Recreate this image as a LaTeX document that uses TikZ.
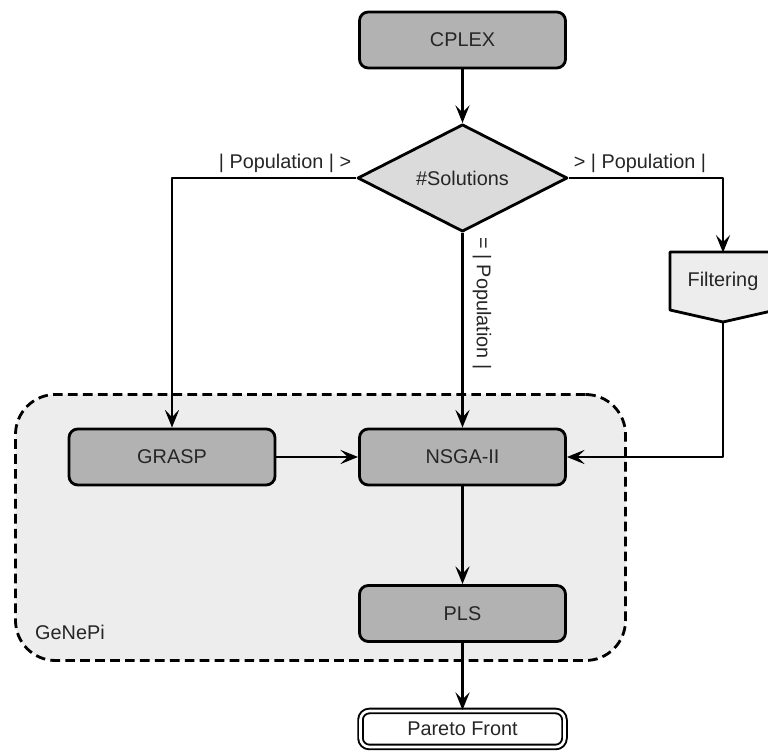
\documentclass[tikz,border=0pt]{standalone}
\usepackage{fontspec}
\setmainfont{Liberation Sans}
\usetikzlibrary{arrows.meta,calc,positioning,shapes.geometric}

\begin{document}
\begin{tikzpicture}[
  line join=round,
  >={Stealth[length=10pt,width=8pt,inset=4pt]},
  every node/.style={font=\fontsize{11.3}{13.5}\selectfont,text=black!85},
  stage/.style={draw=black,line width=1.6pt,rounded corners=5pt,fill=black!30,
    minimum width=4.12cm,minimum height=1.12cm},
  test/.style={draw=black,line width=1.6pt,diamond,fill=black!14,
    minimum width=4.2cm,minimum height=1.88cm,inner sep=0pt},
  sieve/.style={minimum width=2.12cm,minimum height=1.12cm,inner sep=0pt},
  result/.style={draw=black,line width=1.1pt,double,double distance=1.5pt,
    rounded corners=5pt,fill=white,minimum width=4.08cm,minimum height=.72cm},
  group/.style={draw=black,line width=1.6pt,dash pattern=on 5.5pt off 3pt,
    rounded corners=.8cm,fill=black!7,minimum width=12.2cm,minimum height=5.32cm},
  flow/.style={->,line width=1.6pt},
  cond/.style={inner sep=2pt}
]
% Page frame.
\useasboundingbox (0,0) rectangle (15.36,15.02);

% The GeNePi block goes first, so the stages sit on top of it.
\node[group] (genepi) at (6.41,4.47) {};
\node (genepiname) at (1.40,2.38) {GeNePi};

% Initial solutions and the test on their number.
\node[stage] (cplex) at (9.25,14.22) {CPLEX};
\node[test] (sol) at (9.25,11.46) {\#Solutions};

% Filtering step: a box with a pointed bottom.
\coordinate (fc) at (14.46,9.40);
\draw[line width=1.6pt,fill=black!7] ($(fc)+(-1.06,.58)$) -- ++(2.12,0)
  -- ++(0,-1.16) -- ++(-1.06,-.24) -- ++(-1.06,.24) -- cycle;
\node[sieve] (filter) at (fc) {Filtering};
\coordinate (ftip) at ($(filter.south)+(0,-.24)$);

% Stages inside GeNePi, then the output.
\node[stage] (grasp) at (3.44,5.88) {GRASP};
\node[stage] (nsga) at (9.25,5.88) {NSGA-II};
\node[stage] (pls) at (9.25,2.75) {PLS};
\node[result] (pareto) at (9.25,.44) {Pareto Front};

% Connectors.
\draw[flow] (cplex) -- (sol);
\draw[flow] (sol.west) -| node[pos=0,anchor=south east,cond] {| Population | >}
  (grasp.north);
\draw[flow] (sol.east) -| node[pos=0,anchor=south west,cond] {> | Population |}
  (filter.north);
\draw[flow] (sol.south) -- node[pos=0,anchor=south west,rotate=-90,
  inner xsep=1.5pt,inner ysep=5pt] {= | Population |} (nsga.north);
\draw[flow] (ftip) |- (nsga.east);
\draw[flow] (grasp) -- (nsga);
\draw[flow] (nsga) -- (pls);
\draw[flow] (pls) -- (pareto);
\end{tikzpicture}
\end{document}
